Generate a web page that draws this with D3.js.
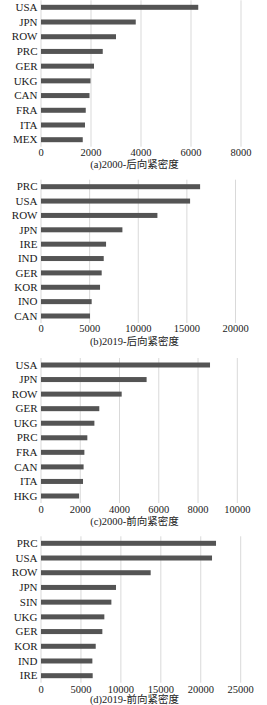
<!DOCTYPE html>
<html>
<head>
<meta charset="utf-8">
<script src="https://cdn.jsdelivr.net/npm/d3@7"></script>
<style>
  body { margin: 0; background: #fff; }
</style>
</head>
<body>
<div id="chart"></div>
<script>
// data
const catsA = ["USA", "JPN", "ROW", "PRC", "GER", "UKG", "CAN", "FRA", "ITA", "MEX"];
const valsA = [6290, 3790, 3000, 2470, 2120, 1980, 1940, 1790, 1760, 1670];
const ticksA = [0, 2000, 4000, 6000, 8000];

const catsB = ["PRC", "USA", "ROW", "JPN", "IRE", "IND", "GER", "KOR", "INO", "CAN"];
const valsB = [16360, 15330, 11970, 8370, 6690, 6450, 6240, 6070, 5210, 5040];
const ticksB = [0, 5000, 10000, 15000, 20000];

const catsC = ["USA", "JPN", "ROW", "GER", "UKG", "PRC", "FRA", "CAN", "ITA", "HKG"];
const valsC = [8610, 5380, 4110, 2970, 2720, 2360, 2210, 2170, 2140, 1940];
const ticksC = [0, 2000, 4000, 6000, 8000, 10000];

const catsD = ["PRC", "USA", "ROW", "JPN", "SIN", "UKG", "GER", "KOR", "IND", "IRE"];
const valsD = [21910, 21410, 13730, 9390, 8810, 7930, 7680, 6850, 6430, 6470];
const ticksD = [0, 5000, 10000, 15000, 20000, 25000];

const captions = ["(a)2000-后向紧密度", "(b)2019-后向紧密度", "(c)2000-前向紧密度", "(d)2019-前向紧密度"];

// panel layout
const panels = [
  { cats: catsA, vals: valsA, ticks: ticksA, x1: 241,   top: 7.3,   bottom: 139.7, tickY: 156,   capY: 168 },
  { cats: catsB, vals: valsB, ticks: ticksB, x1: 235.5, top: 186.7, bottom: 316,   tickY: 331.5, capY: 344.5 },
  { cats: catsC, vals: valsC, ticks: ticksC, x1: 237.3, top: 365,   bottom: 496,   tickY: 512.5, capY: 524.5 },
  { cats: catsD, vals: valsD, ticks: ticksD, x1: 240.7, top: 543.3, bottom: 675.7, tickY: 692.5, capY: 703 }
];

const W = 267, H = 705, x0 = 41, barH = 5;
const serif = "'Liberation Serif', 'DejaVu Serif', 'Noto Sans CJK SC', serif";

const svg = d3.select("#chart").append("svg")
    .attr("width", W)
    .attr("height", H)
    .style("font-family", serif);

panels.forEach((p, i) => {
  const g = svg.append("g");
  const data = p.cats.map((c, k) => ({ cat: c, val: p.vals[k] }));

  const x = d3.scaleLinear()
      .domain([0, d3.max(p.ticks)])
      .range([x0, p.x1]);

  const y = d3.scalePoint()
      .domain(p.cats)
      .range([p.top, p.bottom]);

  // gridlines
  g.selectAll("line.grid")
    .data(p.ticks)
    .enter().append("line")
    .attr("class", "grid")
    .attr("x1", d => x(d)).attr("x2", d => x(d))
    .attr("y1", p.top - 7).attr("y2", p.bottom + 7)
    .attr("stroke", "#d9d9d9")
    .attr("stroke-width", 1);

  // bars
  g.selectAll("rect")
    .data(data)
    .enter().append("rect")
    .attr("x", x(0))
    .attr("y", d => y(d.cat) - barH / 2)
    .attr("width", d => x(d.val) - x(0))
    .attr("height", barH)
    .attr("fill", "#545454");

  // category labels
  g.selectAll("text.cat")
    .data(data)
    .enter().append("text")
    .attr("class", "cat")
    .attr("x", 37.5)
    .attr("y", d => y(d.cat) + 3.7)
    .attr("text-anchor", "end")
    .attr("fill", "#1a1a1a")
    .style("font-family", serif)
    .style("font-size", "11px")
    .text(d => d.cat);

  // tick labels
  g.selectAll("text.tick")
    .data(p.ticks)
    .enter().append("text")
    .attr("class", "tick")
    .attr("x", d => x(d))
    .attr("y", p.tickY)
    .attr("text-anchor", "middle")
    .attr("fill", "#1a1a1a")
    .style("font-family", serif)
    .style("font-size", "10.5px")
    .text(d => d);

  g.append("text")
    .attr("x", 134.5)
    .attr("y", p.capY)
    .attr("text-anchor", "middle")
    .attr("fill", "#1a1a1a")
    .style("font-family", serif)
    .style("font-size", "10.5px")
    .text(captions[i]);
});
</script>
</body>
</html>
